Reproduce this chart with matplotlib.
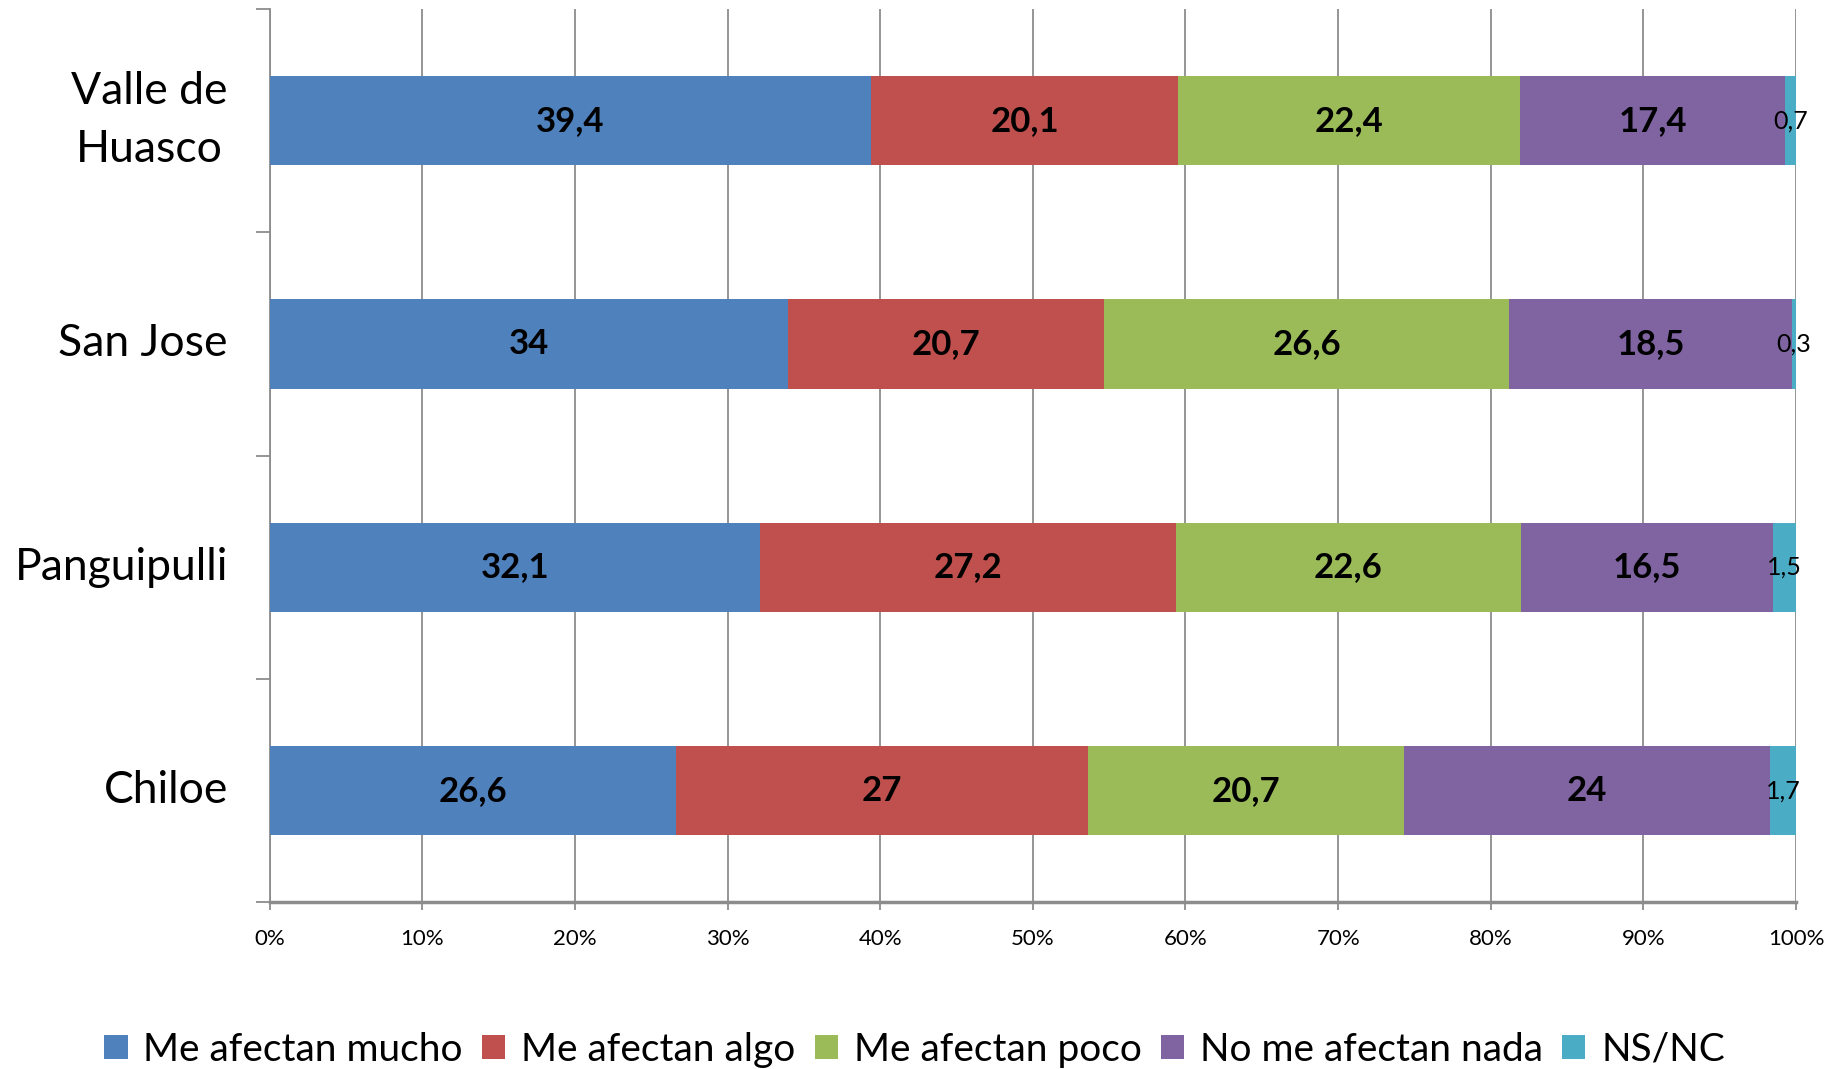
import matplotlib
matplotlib.use("Agg")
import matplotlib.pyplot as plt
import numpy as np
from matplotlib.ticker import FixedLocator, PercentFormatter

plt.rcParams['font.family'] = ['Lato', 'DejaVu Sans']

categories = ["Valle de\nHuasco", "San Jose", "Panguipulli", "Chiloe"]
series_names = ["Me afectan mucho", "Me afectan algo", "Me afectan poco",
                "No me afectan nada", "NS/NC"]
mucho = [39.4, 34, 32.1, 26.6]
algo = [20.1, 20.7, 27.2, 27]
poco = [22.4, 26.6, 22.6, 20.7]
nada = [17.4, 18.5, 16.5, 24]
nsnc = [0.7, 0.3, 1.5, 1.7]
colors = ["#4F81BD", "#C0504D", "#9BBB59", "#8064A2", "#4BACC6"]

data = np.array([mucho, algo, poco, nada, nsnc], dtype=float)
totals = data.sum(axis=0)
shares = data / totals * 100

fig = plt.figure(figsize=(18.29, 10.69), dpi=100)
ax = fig.add_axes([0.1474, 0.156, 0.982 - 0.1474, 0.9916 - 0.156])

ypos = np.arange(len(categories))[::-1]
left = np.zeros(len(categories))
grid_c = "#8C8C8C"
for i, name in enumerate(series_names):
    bars = ax.barh(ypos, shares[i], left=left, height=0.4, color=colors[i],
                   label=name, zorder=3)
    for j, b in enumerate(bars):
        v = data[i, j]
        cx = left[j] + shares[i, j] / 2
        txt = f"{v:g}".replace(".", ",")
        if v < 5:
            ax.text(cx, ypos[j], txt, ha="center", va="center", fontsize=18,
                    color="black", zorder=4)
        else:
            ax.text(cx, ypos[j], txt, ha="center", va="center", fontsize=25,
                    fontweight="bold", color="black", zorder=4)
    left = left + shares[i]

ax.set_xlim(0, 100)
ax.set_ylim(-0.5, len(categories) - 0.5)
ax.xaxis.set_major_locator(FixedLocator(np.arange(0, 101, 10)))
ax.xaxis.set_major_formatter(PercentFormatter(decimals=0))
ax.grid(axis="x", color=grid_c, linewidth=1.3, zorder=0)
ax.set_yticks(ypos)
ax.set_yticklabels(categories, fontsize=32, linespacing=1.5)
ax.tick_params(axis="y", which="major", length=0, pad=30)
ax.set_yticks(np.arange(-0.5, len(categories), 1.0), minor=True)
ax.tick_params(axis="y", which="minor", length=10, width=1.3, color=grid_c)
ax.tick_params(axis="x", which="major", length=6, width=1.3, color=grid_c,
               labelsize=16, pad=13)
for s in ["top", "right"]:
    ax.spines[s].set_visible(False)
ax.spines["left"].set_color(grid_c)
ax.spines["left"].set_linewidth(1.3)
ax.spines["bottom"].set_color(grid_c)
ax.spines["bottom"].set_linewidth(2.5)
for lab in ax.get_yticklabels():
    lab.set_multialignment("center")
    lab.set_verticalalignment("center")

fig.legend(loc="center", bbox_to_anchor=(0.5, 0.018), ncol=5, frameon=False,
           fontsize=28, handlelength=0.6, handleheight=0.6, handletextpad=0.4,
           columnspacing=0.5)

fig.savefig("out.png", dpi=100)
